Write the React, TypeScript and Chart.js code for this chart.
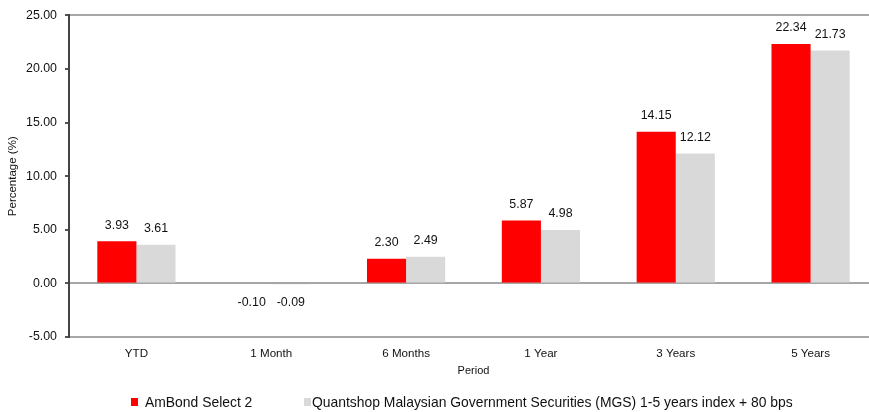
import React, { useEffect, useRef } from "react";
import { Chart, registerables } from "chart.js";

Chart.register(...registerables);

const categories = ["YTD", "1 Month", "6 Months", "1 Year", "3 Years", "5 Years"];
const fundValues = [3.93, -0.1, 2.3, 5.87, 14.15, 22.34];
const benchmarkValues = [3.61, -0.09, 2.49, 4.98, 12.12, 21.73];
const fundName = "AmBond Select 2";
const benchmarkName = "Quantshop Malaysian Government Securities (MGS) 1-5 years index + 80 bps";
const yTitle = "Percentage (%)";
const xTitle = "Period";

const FONT = "'Liberation Sans', Arial, Helvetica, sans-serif";

const dataLabelPlugin = {
  id: "dataLabels",
  afterDatasetsDraw(chart: any) {
    const ctx = chart.ctx;
    ctx.save();
    ctx.font = `12.4px ${FONT}`;
    ctx.fillStyle = "#111";
    ctx.textAlign = "center";
    ctx.textBaseline = "middle";
    chart.data.datasets.forEach((ds: any, i: number) => {
      const meta = chart.getDatasetMeta(i);
      meta.data.forEach((el: any, j: number) => {
        const v = ds.data[j];
        const y = v >= 0 ? el.y - 16 : el.y + 18;
        ctx.fillText(v.toFixed(2), el.x, y);
      });
    });
    ctx.restore();
  },
};

export default function App() {
  const ref = useRef<HTMLCanvasElement>(null);
  useEffect(() => {
    if (!ref.current) return;
    const chart = new Chart(ref.current, {
      type: "bar",
      data: {
        labels: categories,
        datasets: [
          {
            label: fundName,
            data: fundValues,
            backgroundColor: "#ff0000",
            borderWidth: 0,
          },
          {
            label: benchmarkName,
            data: benchmarkValues,
            backgroundColor: "#d9d9d9",
            borderWidth: 0,
          },
        ],
      },
      options: {
        responsive: false,
        animation: false,
        layout: { padding: { top: 14, right: 0, bottom: 32, left: 0 } },
        datasets: { bar: { categoryPercentage: 0.58, barPercentage: 1 } },
        plugins: {
          legend: { display: false },
          tooltip: { enabled: false },
        },
        scales: {
          x: {
            grid: { display: false },
            border: { display: true, color: "#a6a6a6", width: 2 },
            ticks: { color: "#111", padding: 2, font: { family: FONT, size: 11.6 } },
            title: {
              display: true,
              text: xTitle,
              color: "#111",
              font: { family: FONT, size: 11 },
              padding: { top: 0, bottom: 2 },
            },
            afterFit: (scale: any) => {
              scale.height = 43;
            },
          },
          y: {
            min: -5,
            max: 25,
            ticks: {
              stepSize: 5,
              color: "#111",
              padding: 8,
              font: { family: FONT, size: 12.4 },
              callback: (v: any) => Number(v).toFixed(2),
            },
            grid: {
              color: (c: any) => {
                const v = c.tick ? c.tick.value : null;
                return v === 25 || v === 0 || v === -5 ? "#a6a6a6" : "rgba(0,0,0,0)";
              },
              lineWidth: 2,
              tickColor: "#555",
              tickLength: 4,
              drawTicks: true,
            },
            border: { display: true, color: "#444", width: 2 },
            title: {
              display: true,
              text: yTitle,
              color: "#111",
              font: { family: FONT, size: 11.5 },
              padding: { top: 6, bottom: 0 },
            },
            afterFit: (scale: any) => {
              scale.width = 69;
            },
          },
        },
      },
      plugins: [dataLabelPlugin],
    });
    return () => chart.destroy();
  }, []);

  const legendText: React.CSSProperties = {
    position: "absolute",
    top: 394,
    fontFamily: FONT,
    fontSize: 13.9,
    color: "#111",
    lineHeight: "16px",
    whiteSpace: "nowrap",
  };

  return (
    <div
      style={{
        position: "fixed",
        left: 0,
        top: 0,
        width: 869,
        height: 412,
        overflow: "hidden",
        background: "#fff",
      }}
    >
      <canvas ref={ref} width={878} height={412} style={{ display: "block" }} />
      <div style={{ position: "absolute", left: 131, top: 398, width: 7, height: 8, background: "#ff0000" }} />
      <div style={{ ...legendText, left: 145 }}>{fundName}</div>
      <div style={{ position: "absolute", left: 304, top: 398, width: 7, height: 8, background: "#d9d9d9" }} />
      <div style={{ ...legendText, left: 312 }}>{benchmarkName}</div>
    </div>
  );
}
